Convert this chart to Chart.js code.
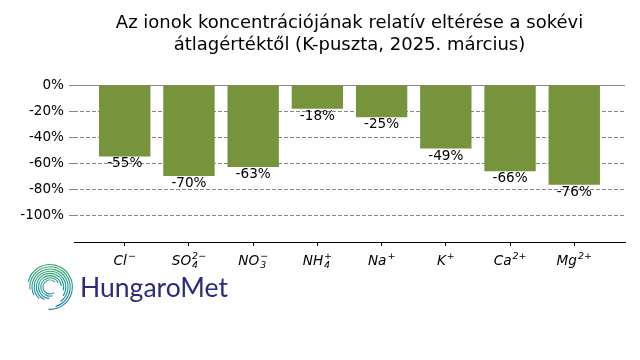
<!DOCTYPE html>
<html>
<head>
<meta charset="utf-8">
<script src="https://cdn.jsdelivr.net/npm/chart.js@4"></script>
<style>
  body { margin: 0; background: #fff; }
  #wrap { width: 640px; height: 360px; }
</style>
</head>
<body>
<div id="wrap"><canvas id="chart" width="640" height="360"></canvas></div>
<script>
// ion names: base text, subscript, superscript
const ionBase = ['Cl', 'SO', 'NO', 'NH', 'Na', 'K', 'Ca', 'Mg'];
const ionSub = ['', '4', '3', '4', '', '', '', ''];
const ionSup = ['\u2212', '2\u2212', '\u2212', '+', '+', '+', '2+', '2+'];
// deviation from long-term mean, %
const deviation = [-54.6, -69.6, -62.7, -18.2, -24.6, -48.6, -66.0, -76.2];
const yTicks = [0, -20, -40, -60, -80, -100];

const titleLines = [
  'Az ionok koncentrációjának relatív eltérése a sokévi',
  'átlagértéktől (K-puszta, 2025. március)'
];

const barLabels = {
  id: 'barLabels',
  afterDatasetsDraw(chart) {
    const ctx = chart.ctx;
    const meta = chart.getDatasetMeta(0);
    ctx.save();
    ctx.font = '13.6px "DejaVu Sans"';
    ctx.fillStyle = '#000';
    ctx.textAlign = 'center';
    ctx.textBaseline = 'middle';
    meta.data.forEach((bar, i) => {
      ctx.fillText(Math.round(deviation[i]) + '%', bar.x, bar.y + 7.5);
    });
    ctx.restore();
  }
};

const ionLabels = {
  id: 'ionLabels',
  afterDraw(chart) {
    const ctx = chart.ctx;
    const xs = chart.scales.x;
    const base = 264.5;
    ctx.save();
    ctx.fillStyle = '#000';
    ctx.textBaseline = 'alphabetic';
    ctx.textAlign = 'left';
    ionBase.forEach((b, i) => {
      const cx = xs.getPixelForValue(i);
      ctx.font = 'italic 13.6px "DejaVu Sans"';
      const wb = ctx.measureText(b).width;
      ctx.font = 'italic 9.5px "DejaVu Sans"';
      const ws = Math.max(ctx.measureText(ionSub[i]).width, ctx.measureText(ionSup[i]).width);
      const x0 = cx - (wb + ws + 1) / 2;
      ctx.font = 'italic 13.6px "DejaVu Sans"';
      ctx.fillText(b, x0, base);
      ctx.font = 'italic 9.5px "DejaVu Sans"';
      if (ionSub[i]) ctx.fillText(ionSub[i], x0 + wb + 1, base + 3);
      ctx.fillText(ionSup[i], x0 + wb + 1, base - 6);
    });
    ctx.restore();
  }
};

const logo = {
  id: 'logo',
  afterDraw(chart) {
    const ctx = chart.ctx;
    ctx.save();
    const cx = 50, cy = 287;
    const grad = ctx.createLinearGradient(0, 263, 0, 312);
    grad.addColorStop(0, '#3aa858');
    grad.addColorStop(0.5, '#199a98');
    grad.addColorStop(1, '#1f6db3');
    ctx.strokeStyle = grad;
    ctx.lineWidth = 1.1;
    for (let k = 0; k < 8; k++) {
      const r = 7 + k * 2.2;
      const a0 = Math.PI * (0.3 + k * 0.11);
      const a1 = Math.PI * (1.75 + k * 0.11);
      ctx.beginPath();
      ctx.arc(cx, cy, r, a0, a1);
      ctx.stroke();
    }
    ctx.font = '27px Lato';
    const w = ctx.measureText('HungaroMet').width;
    ctx.fillStyle = '#2c2a7f';
    ctx.textBaseline = 'alphabetic';
    ctx.translate(80, 297);
    ctx.scale(148 / w, 1);
    ctx.fillText('HungaroMet', 0, 0);
    ctx.restore();
  }
};

new Chart(document.getElementById('chart'), {
  type: 'bar',
  data: {
    datasets: [{
      data: deviation.map((v, i) => ({ x: i, y: v })),
      backgroundColor: '#77933C',
      barPercentage: 0.8,
      categoryPercentage: 1.0
    }]
  },
  options: {
    responsive: false,
    animation: false,
    events: [],
    layout: { padding: { left: 0, right: 15, top: 0, bottom: 0 } },
    plugins: {
      legend: { display: false },
      tooltip: { enabled: false },
      title: {
        display: true,
        fullSize: false,
        text: titleLines,
        color: '#000',
        font: { family: 'DejaVu Sans', size: 18, weight: 'normal', lineHeight: 1.2 },
        padding: { top: 12.8, bottom: 29 }
      }
    },
    scales: {
      x: {
        type: 'linear',
        min: -0.79,
        max: 7.79,
        offset: false,
        afterBuildTicks: s => { s.ticks = ionBase.map((b, i) => ({ value: i })); },
        afterFit: s => { s.height = 118; },
        ticks: { display: false },
        grid: { offset: false, drawOnChartArea: false, drawTicks: true, tickLength: 4, tickColor: '#000' },
        border: { display: true, color: '#000', width: 1 }
      },
      y: {
        min: -120,
        max: 0,
        afterBuildTicks: s => { s.ticks = yTicks.map(v => ({ value: v })); },
        afterFit: s => { s.width = 74; },
        ticks: {
          color: '#000',
          padding: 5,
          font: { family: 'DejaVu Sans', size: 13.6 },
          callback: v => v + '%'
        },
        grid: { color: '#888', lineWidth: 1, tickLength: 5, tickColor: '#888' },
        border: { display: false, dash: c => (c.tick && c.tick.value === 0 ? [] : [4, 2]) }
      }
    }
  },
  plugins: [barLabels, ionLabels, logo]
});
</script>
</body>
</html>
